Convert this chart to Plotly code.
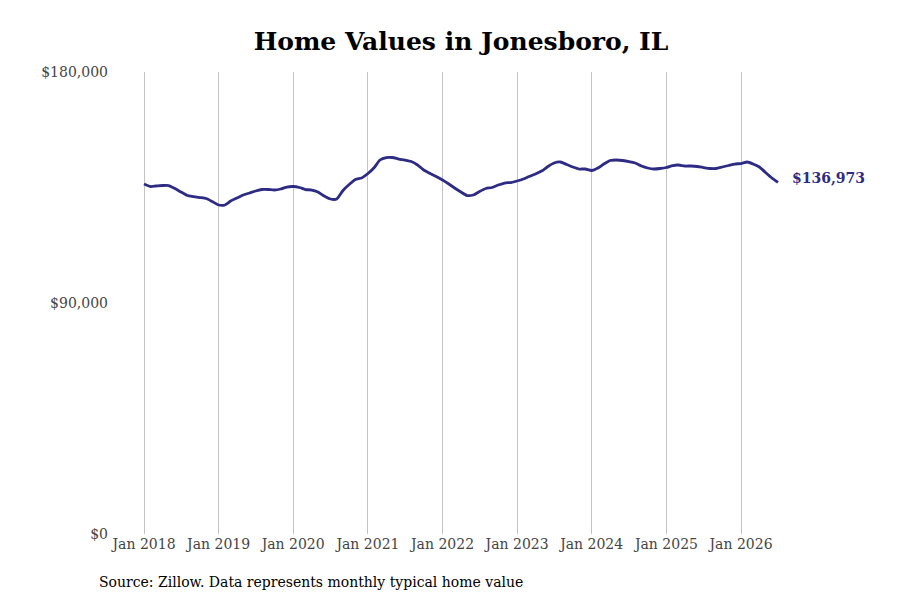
#!/usr/bin/env python3
# coding: utf-8

import pandas
from plotly import graph_objs as go


TITLE = 'Home Values in Jonesboro, IL'
SOURCE = 'Source: Zillow. Data represents monthly typical home value'
LINE_COLOR = '#2e2b85'
FONT = 'DejaVu Serif'

START_MONTH = '2018-01-01'
END_MONTH = '2026-07-01'

# monthly typical home value, Jan 2018 .. Jul 2026
VALUES = [
    136360, 135386, 135581, 135775, 135775, 134607, 133243, 131880, 131490, 131100, 130711, 129542,
    128178, 128178, 129737, 130906, 132074, 132854, 133633, 134217, 134217, 134022, 134412, 135191,
    135386, 134996, 134217, 134022, 133243, 131685, 130516, 130516, 133828, 136165, 138113, 138698,
    140451, 142788, 145710, 146684, 146684, 146100, 145710, 145126, 143762, 141814, 140451, 139282,
    137918, 136360, 134802, 133243, 131880, 132074, 133438, 134607, 134996, 135970, 136750, 136944,
    137529, 138308, 139282, 140256, 141425, 143178, 144542, 144931, 143958, 142983, 142204, 142204,
    141620, 142594, 144152, 145516, 145710, 145516, 145126, 144542, 143373, 142594, 142204, 142399,
    142788, 143568, 143762, 143373, 143373, 143178, 142788, 142399, 142399, 142983, 143568, 144152,
    144347, 144931, 144152, 142983, 140840, 138698, 136973,
]

Y_TICKS = [0, 90000, 180000]
Y_TICK_LABELS = ['$0', '$90,000', '$180,000']
X_TICKS = ['2018-01-01', '2019-01-01', '2020-01-01', '2021-01-01', '2022-01-01',
           '2023-01-01', '2024-01-01', '2025-01-01', '2026-01-01']
X_TICK_LABELS = ['Jan 2018', 'Jan 2019', 'Jan 2020', 'Jan 2021', 'Jan 2022',
                 'Jan 2023', 'Jan 2024', 'Jan 2025', 'Jan 2026']


def get_series():
    dates = pandas.date_range(START_MONTH, END_MONTH, freq='MS')
    return pandas.Series(VALUES, index=dates)


def get_figure(series):
    fig = go.Figure(
        layout=go.Layout(
            width=900, height=600,
            paper_bgcolor='white', plot_bgcolor='white',
            margin=dict(l=107, r=101, t=64, b=74),
            showlegend=False,
            font=dict(family=FONT, size=14, color='#444444'),
            title=dict(text=f'<b>{TITLE}</b>', xref='paper', x=0.5, xanchor='center',
                       y=0.944, yanchor='middle',
                       font=dict(family=FONT, size=25, color='black')),
            xaxis=go.layout.XAxis(
                range=['2017-08-12', '2026-11-20'],
                tickvals=X_TICKS, ticktext=X_TICK_LABELS,
                showgrid=True, gridcolor='#c4c4c4', gridwidth=1,
                zeroline=False, showline=False, ticks='',
                tickfont=dict(size=14, color='#444444'),
            ),
            yaxis=go.layout.YAxis(
                range=[0, 180000],
                tickvals=Y_TICKS, ticktext=Y_TICK_LABELS,
                showgrid=False, zeroline=False, showline=False, ticks='',
                ticklabelstandoff=6,
                tickfont=dict(size=14, color='#444444'),
            ),
        )
    )

    fig.add_trace(go.Scatter(
        x=series.index, y=series.values,
        mode='lines',
        line=dict(color=LINE_COLOR, width=2.8, shape='spline', smoothing=0.6),
        hoverinfo='x+y',
    ))

    last_x, last_y = series.index[-1], series.values[-1]
    fig.add_annotation(
        x=last_x, y=last_y, text=f'<b>${last_y:,.0f}</b>',
        showarrow=False, xanchor='left', yanchor='middle', xshift=12, yshift=4,
        font=dict(family=FONT, size=14, color=LINE_COLOR),
    )

    fig.add_annotation(
        xref='paper', yref='paper', x=-0.026, y=-0.104,
        xanchor='left', yanchor='middle', showarrow=False,
        text=SOURCE, font=dict(family=FONT, size=14, color='black'),
    )

    return fig


def main():
    fig = get_figure(get_series())
    fig.write_html('out.html')


if __name__ == '__main__':
    main()
